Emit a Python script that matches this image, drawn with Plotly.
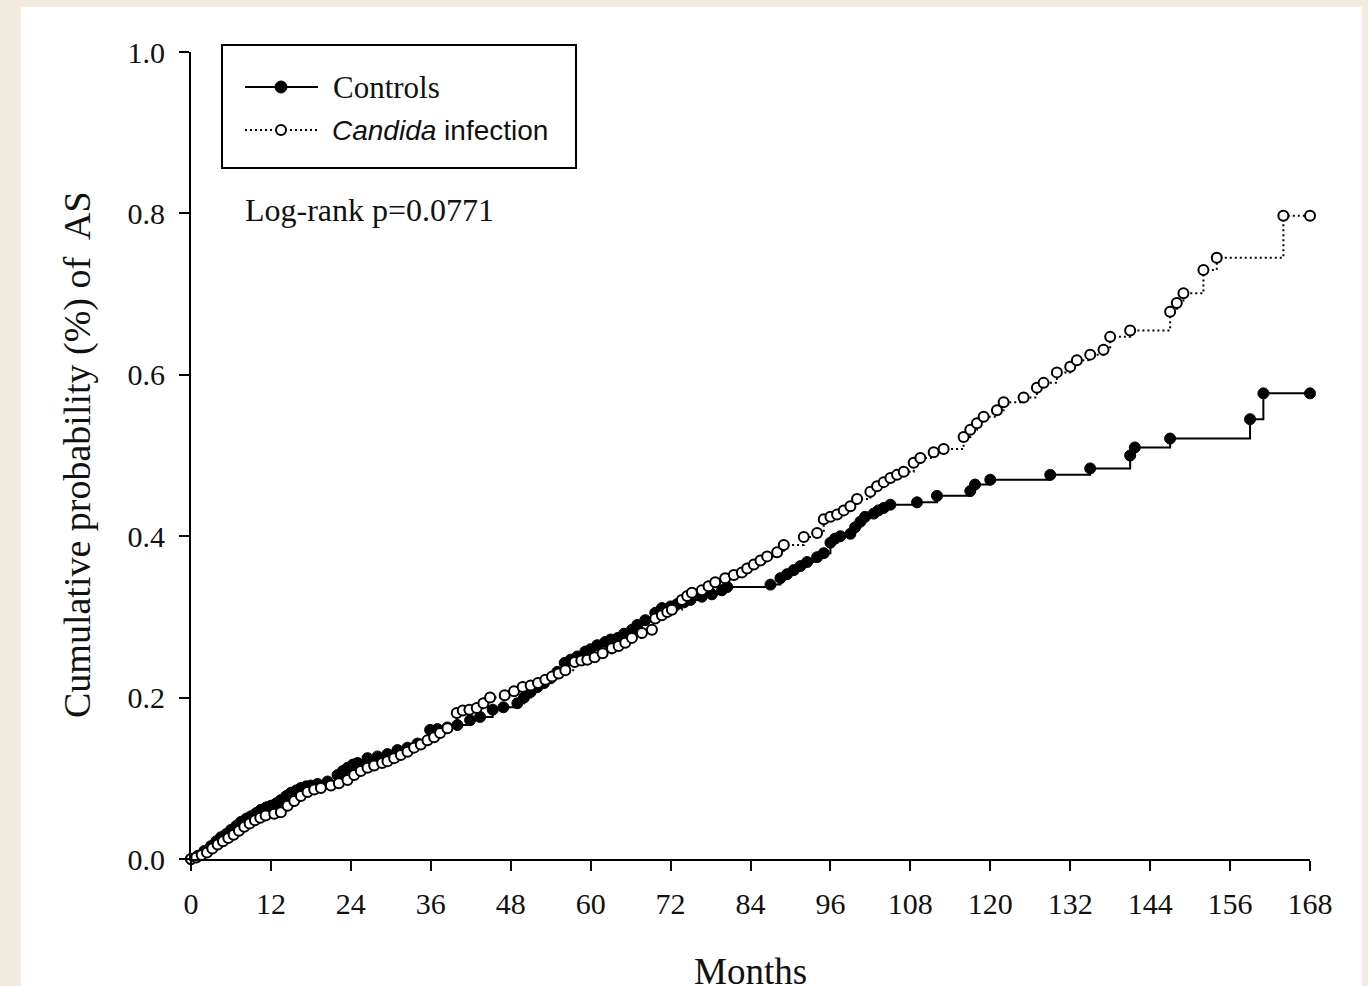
import plotly.graph_objects as go

# ---------------- data ----------------
ctrl_months = [0.0, 1.0, 2.0, 3.0, 3.8, 4.5, 5.3, 6.0, 6.8, 7.5, 8.3, 9.0, 9.8, 10.5, 11.3,
               12.0, 12.8, 13.5, 14.3, 15.0, 15.8, 16.5, 17.3, 18.0, 19.0, 20.5, 22.0, 22.8,
               23.5, 24.3, 25.0, 26.5, 28.0, 29.5, 31.0, 32.5, 34.0, 35.9, 37.0, 38.5, 40.0,
               41.9, 43.4, 45.3, 46.9, 49.0, 50.0, 51.0, 52.0, 53.0, 54.0, 55.0, 56.1, 57.0,
               58.0, 59.2, 60.0, 61.0, 62.2, 63.0, 64.1, 65.0, 66.2, 67.0, 68.2, 69.7, 70.7,
               72.0, 73.0, 74.0, 75.0, 76.7, 78.2, 79.7, 80.5, 87.0, 88.5, 89.5, 90.5, 91.5,
               92.5, 94.0, 95.0, 96.0, 96.7, 97.5, 99.0, 99.7, 100.5, 101.2, 102.5, 103.2,
               104.0, 105.0, 109.0, 112.0, 117.0, 117.7, 120.0, 129.0, 135.0, 141.0, 141.7,
               147.0, 159.0, 161.0, 168.0]
ctrl_prob = [0.000, 0.004, 0.010, 0.016, 0.022, 0.027, 0.031, 0.036, 0.041, 0.046, 0.050,
             0.053, 0.057, 0.061, 0.064, 0.066, 0.069, 0.073, 0.078, 0.082, 0.085, 0.088,
             0.090, 0.091, 0.093, 0.096, 0.104, 0.109, 0.113, 0.117, 0.119, 0.125, 0.127,
             0.130, 0.135, 0.138, 0.143, 0.160, 0.161, 0.163, 0.166, 0.172, 0.176, 0.185,
             0.188, 0.193, 0.200, 0.207, 0.213, 0.218, 0.224, 0.232, 0.243, 0.247, 0.251,
             0.257, 0.260, 0.265, 0.269, 0.272, 0.274, 0.279, 0.284, 0.290, 0.296, 0.305,
             0.311, 0.313, 0.316, 0.318, 0.321, 0.325, 0.328, 0.333, 0.337, 0.340, 0.348,
             0.353, 0.358, 0.363, 0.368, 0.374, 0.379, 0.392, 0.397, 0.400, 0.403, 0.411,
             0.418, 0.424, 0.428, 0.432, 0.435, 0.439, 0.442, 0.450, 0.456, 0.464, 0.470,
             0.476, 0.484, 0.500, 0.510, 0.521, 0.545, 0.577, 0.577]

cand_months = [0.0, 0.8, 1.6, 2.4, 3.2, 4.0, 4.8, 5.6, 6.4, 7.2, 8.0, 8.8, 9.6, 10.4, 11.2,
               12.5, 13.5, 14.5, 15.5, 16.5, 17.5, 18.5, 19.5, 21.0, 22.2, 23.5, 24.5, 25.5,
               26.5, 27.5, 28.7, 29.5, 30.5, 31.5, 32.5, 33.5, 34.5, 35.5, 36.5, 37.4, 38.5,
               39.9, 40.8, 41.8, 42.9, 43.9, 44.9, 47.1, 48.5, 49.8, 51.0, 52.1, 53.2, 54.2,
               55.2, 56.2, 57.6, 58.6, 59.5, 60.6, 61.8, 63.2, 64.2, 65.2, 66.2, 67.7, 69.2,
               69.7, 70.7, 71.5, 72.2, 73.7, 74.5, 75.2, 76.7, 77.7, 78.7, 80.2, 81.5, 82.7,
               83.5, 84.5, 85.5, 86.5, 88.0, 89.0, 92.0, 94.0, 95.0, 96.0, 97.0, 98.0, 99.0,
               100.0, 102.0, 103.0, 104.0, 105.0, 106.0, 107.0, 108.5, 109.5, 111.5, 113.0,
               116.0, 117.0, 118.0, 119.0, 121.0, 122.0, 125.0, 127.0, 128.0, 130.0, 132.0,
               133.0, 135.0, 137.0, 138.0, 141.0, 147.0, 148.0, 149.0, 152.0, 154.0, 164.0,
               168.0]
cand_prob = [0.000, 0.002, 0.005, 0.008, 0.013, 0.018, 0.022, 0.026, 0.030, 0.035, 0.040,
             0.044, 0.048, 0.051, 0.054, 0.056, 0.058, 0.066, 0.072, 0.078, 0.083, 0.086,
             0.088, 0.091, 0.094, 0.098, 0.104, 0.109, 0.113, 0.116, 0.119, 0.121, 0.125,
             0.129, 0.133, 0.138, 0.142, 0.147, 0.151, 0.156, 0.162, 0.181, 0.184, 0.185,
             0.187, 0.193, 0.200, 0.203, 0.208, 0.213, 0.215, 0.218, 0.222, 0.226, 0.230,
             0.234, 0.244, 0.246, 0.247, 0.250, 0.255, 0.261, 0.264, 0.268, 0.274, 0.280,
             0.284, 0.298, 0.302, 0.306, 0.309, 0.321, 0.326, 0.330, 0.333, 0.338, 0.343,
             0.348, 0.352, 0.355, 0.360, 0.365, 0.370, 0.375, 0.380, 0.389, 0.399, 0.404,
             0.421, 0.424, 0.427, 0.432, 0.437, 0.446, 0.455, 0.462, 0.467, 0.472, 0.476,
             0.480, 0.491, 0.497, 0.504, 0.508, 0.523, 0.532, 0.540, 0.548, 0.556, 0.566,
             0.572, 0.584, 0.590, 0.603, 0.610, 0.618, 0.625, 0.631, 0.647, 0.655, 0.678,
             0.689, 0.701, 0.730, 0.745, 0.797, 0.797]

x_ticks = list(range(0, 169, 12))
y_ticks = [0.0, 0.2, 0.4, 0.6, 0.8, 1.0]
y_tick_labels = ["0.0", "0.2", "0.4", "0.6", "0.8", "1.0"]

series_names = ["Controls", "<i>Candida</i> infection"]

SERIF = "Liberation Serif, Times New Roman, serif"
SANS = "Liberation Sans, Arial, sans-serif"
BG = "#f2ebdf"

fig = go.Figure()
fig.add_trace(go.Scatter(
    x=ctrl_months, y=ctrl_prob, mode="lines+markers", name=series_names[0],
    line=dict(color="black", width=2, shape="hv"),
    marker=dict(symbol="circle", size=11, color="black", line=dict(color="black", width=1)),
    cliponaxis=False, showlegend=False))
fig.add_trace(go.Scatter(
    x=cand_months, y=cand_prob, mode="lines+markers", name=series_names[1],
    line=dict(color="black", width=2, shape="hv", dash="2px,3px"),
    marker=dict(symbol="circle", size=10, color="white", line=dict(color="black", width=2)),
    cliponaxis=False, showlegend=False))

W, H = 1368, 986
L, R, T, B = 191, 58, 52, 127
pw = W - L - R
ph = H - T - B


def px_x(p):
    return (p - L) / pw


def px_y(p):
    return (H - B - p) / ph


# hand-drawn legend box (pixel layout of the reference legend)
leg_rows = [87, 130]
shapes = [
    dict(type="rect", xref="paper", yref="paper",
         x0=px_x(21), x1=px_x(1362), y0=px_y(H + 5), y1=px_y(7),
         fillcolor="white", line=dict(width=0), layer="below"),
    dict(type="rect", xref="paper", yref="paper",
         x0=px_x(222), x1=px_x(576), y0=px_y(168), y1=px_y(45),
         fillcolor="white", line=dict(color="black", width=2)),
    dict(type="line", xref="paper", yref="paper",
         x0=px_x(245), x1=px_x(318), y0=px_y(leg_rows[0]), y1=px_y(leg_rows[0]),
         line=dict(color="black", width=2)),
    dict(type="line", xref="paper", yref="paper",
         x0=px_x(245), x1=px_x(318), y0=px_y(leg_rows[1]), y1=px_y(leg_rows[1]),
         line=dict(color="black", width=2, dash="2px,3px")),
    dict(type="circle", xref="paper", yref="paper", xsizemode="pixel", ysizemode="pixel",
         xanchor=px_x(281), yanchor=px_y(leg_rows[0]), x0=-6, x1=6, y0=-6, y1=6,
         fillcolor="black", line=dict(color="black", width=1)),
    dict(type="circle", xref="paper", yref="paper", xsizemode="pixel", ysizemode="pixel",
         xanchor=px_x(281), yanchor=px_y(leg_rows[1]), x0=-5, x1=5, y0=-5, y1=5,
         fillcolor="white", line=dict(color="black", width=2)),
]

fig.update_layout(
    width=W, height=H,
    margin=dict(l=L, r=R, t=T, b=B, pad=0),
    paper_bgcolor=BG,
    plot_bgcolor="white",
    showlegend=False,
    xaxis=dict(
        range=[0, 168], tickvals=x_ticks, ticktext=[str(v) for v in x_ticks],
        showline=True, linecolor="black", linewidth=2, mirror=False,
        ticks="outside", ticklen=10, tickwidth=2, tickcolor="black",
        showgrid=False, zeroline=False,
        tickfont=dict(family=SERIF, size=30, color="#111"),
        ticklabelstandoff=7,
    ),
    yaxis=dict(
        range=[0, 1], tickvals=y_ticks, ticktext=y_tick_labels,
        showline=True, linecolor="black", linewidth=2, mirror=False,
        ticks="outside", ticklen=10, tickwidth=2, tickcolor="black",
        showgrid=False, zeroline=False,
        tickfont=dict(family=SERIF, size=30, color="#111"),
        ticklabelstandoff=8,
    ),
    shapes=shapes,
    annotations=[
        dict(text="Cumulative probability (%) of  AS", xref="paper", yref="paper",
             x=px_x(77), y=px_y(455), textangle=-90, showarrow=False,
             xanchor="center", yanchor="middle",
             font=dict(family=SERIF, size=38, color="#111")),
        dict(text="Months", xref="paper", yref="paper",
             x=px_x(750), y=px_y(949), showarrow=False,
             xanchor="center", yanchor="top",
             font=dict(family=SERIF, size=37, color="#111")),
        dict(text="Log-rank p=0.0771", xref="paper", yref="paper",
             x=px_x(243), y=px_y(210), showarrow=False,
             xanchor="left", yanchor="middle",
             font=dict(family=SERIF, size=32, color="#111")),
        dict(text=series_names[0], xref="paper", yref="paper",
             x=px_x(331), y=px_y(leg_rows[0]), showarrow=False,
             xanchor="left", yanchor="middle",
             font=dict(family=SERIF, size=31, color="#111")),
        dict(text=series_names[1], xref="paper", yref="paper",
             x=px_x(330), y=px_y(leg_rows[1]), showarrow=False,
             xanchor="left", yanchor="middle",
             font=dict(family=SANS, size=28, color="#111")),
    ],
)

fig.write_html(
    "out.html",
    config={"displayModeBar": False},
    post_script="document.body.style.margin='0';document.body.style.background='%s';" % BG,
)
